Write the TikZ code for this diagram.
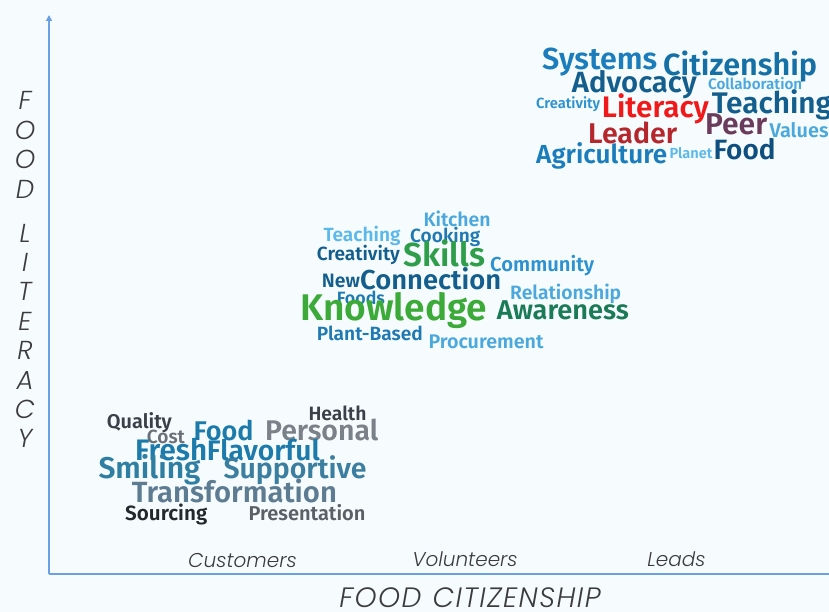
\documentclass[tikz,border=0pt]{standalone}
\usepackage{fontspec}
\usepackage{graphicx}
\usetikzlibrary{arrows.meta}

\newfontfamily\cloudfont{Fira Sans}[UprightFont=* SemiBold]
\newfontfamily\axisfont{Poppins}[UprightFont=* Light Italic]

\definecolor{paper}{HTML}{F6FCFE}
\definecolor{axisblue}{HTML}{6A9FE3}
\definecolor{axistext}{HTML}{3C3C3C}
% word colours
\definecolor{sky}{HTML}{1B7DBB}
\definecolor{skydark}{HTML}{1570A6}
\definecolor{navy}{HTML}{135E8C}
\definecolor{deepnavy}{HTML}{0E4F80}
\definecolor{light}{HTML}{4BA8DC}
\definecolor{pale}{HTML}{5BB8EA}
\definecolor{mid}{HTML}{1F79B2}
\definecolor{bright}{HTML}{2D92CF}
\definecolor{litred}{HTML}{F01818}
\definecolor{brick}{HTML}{B3272D}
\definecolor{plum}{HTML}{6B3B5C}
\definecolor{leaf}{HTML}{3BAA38}
\definecolor{grass}{HTML}{2E9E4A}
\definecolor{pine}{HTML}{1B7B57}
\definecolor{slate}{HTML}{3B4048}
\definecolor{ink}{HTML}{23282D}
\definecolor{ash}{HTML}{6A7077}
\definecolor{stone}{HTML}{7B8188}
\definecolor{petrol}{HTML}{1C7BAA}
\definecolor{petrolmid}{HTML}{2F7FA2}
\definecolor{petrolsoft}{HTML}{3B7E9F}
\definecolor{steel}{HTML}{5D7C92}
\definecolor{smoke}{HTML}{5B6066}

% word scaled to a given width
\newcommand{\cw}[2]{\resizebox{#1pt}{!}{\cloudfont #2}}

\begin{document}
\begin{tikzpicture}[x=1pt, y=-1pt]
\fill[paper] (0,0) rectangle (829,612);
\useasboundingbox (0,0) rectangle (829,612);

% axes
\coordinate (o) at (49,574);
\coordinate (ytop) at (49,15);
\coordinate (xend) at (829,574);
\draw[axisblue, line width=1.6pt, -{Triangle[length=6pt,width=6pt]}] (o) -- (ytop);
\draw[axisblue, line width=1.6pt] (o) -- (xend);

\tikzstyle{every node} = [inner sep=0, anchor=base west]

% leads
\node[text=sky] (systems) at (542,69.3) {\cw{115}{Systems}};
\node[text=skydark] (citizenship) at (663,75.7) {\cw{154}{Citizenship}};
\node[text=navy] (advocacy) at (571.7,92.7) {\cw{125}{Advocacy}};
\node[text=light] (collab) at (708,90) {\cw{94}{Collaboration}};
\node[text=bright] (creat1) at (536,108.3) {\cw{64}{Creativity}};
\node[text=litred] (literacy) at (601.7,118) {\cw{107}{Literacy}};
\node[text=navy] (teach1) at (711.7,114) {\cw{120}{Teaching}};
\node[text=brick] (leader) at (588,143.3) {\cw{89}{Leader}};
\node[text=plum] (peer) at (705,135) {\cw{62}{Peer}};
\node[text=light] (values) at (769.3,137.3) {\cw{59}{Values}};
\node[text=sky] (agri) at (536,163.3) {\cw{131}{Agriculture}};
\node[text=pale] (planet) at (669.3,158.3) {\cw{43}{Planet}};
\node[text=deepnavy] (food1) at (713.3,160) {\cw{62}{Food}};

% volunteers
\node[text=light] (kitchen) at (423.3,226.7) {\cw{67}{Kitchen}};
\node[text=pale] (teach2) at (323.3,242) {\cw{77}{Teaching}};
\node[text=mid] (cooking) at (410,242) {\cw{70}{Cooking}};
\node[text=navy] (creat2) at (316.7,260) {\cw{83}{Creativity}};
\node[text=grass] (skills) at (403.3,266.7) {\cw{82}{Skills}};
\node[text=bright] (community) at (490,271.7) {\cw{104}{Community}};
\node[text=navy] (new) at (321.7,287.3) {\cw{38}{New}};
\node[text=navy] (connection) at (360,289.3) {\cw{141}{Connection}};
\node[text=light] (relation) at (510,299.3) {\cw{111}{Relationship}};
\node[text=mid] (foods) at (336.7,304) {\cw{48}{Foods}};
\node[text=leaf] (knowledge) at (300,320.7) {\cw{187}{Knowledge}};
\node[text=pine] (awareness) at (496.7,319.3) {\cw{132}{Awareness}};
\node[text=mid] (plant) at (316.7,340.7) {\cw{106}{Plant-Based}};
\node[text=light] (procure) at (428.3,348.3) {\cw{115}{Procurement}};

% customers
\node[text=slate] (quality) at (106.7,428.3) {\cw{65}{Quality}};
\node[text=slate] (health) at (308.3,420) {\cw{58}{Health}};
\node[text=ash] (cost) at (146.7,443.3) {\cw{38}{Cost}};
\node[text=petrol] (food2) at (193.3,440) {\cw{60}{Food}};
\node[text=stone] (personal) at (265,440) {\cw{113}{Personal}};
\node[text=petrol] (fresh) at (135,460) {\cw{72}{Fresh}};
\node[text=petrol] (flavorful) at (206.7,460) {\cw{113}{Flavorful}};
\node[text=petrolmid] (smiling) at (98.3,478.3) {\cw{102}{Smiling}};
\node[text=petrolsoft] (supportive) at (223.3,478.3) {\cw{143}{Supportive}};
\node[text=steel] (transform) at (131.7,502.3) {\cw{205}{Transformation}};
\node[text=ink] (sourcing) at (125,520) {\cw{82}{Sourcing}};
\node[text=smoke] (present) at (248.3,520) {\cw{117}{Presentation}};

% axis labels
\tikzstyle{every node} = [inner sep=0, text=axistext]
\node[anchor=north, align=center, font=\axisfont\fontsize{26}{29.4}\selectfont] (ylabel) at (25,91.5)
  {F\\O\\O\\D\\[14.6pt]L\\I\\T\\E\\R\\A\\C\\Y};
\node[anchor=base, font=\axisfont\fontsize{20}{20}\selectfont] (customers) at (242.5,567) {Customers};
\node[anchor=base, font=\axisfont\fontsize{20}{20}\selectfont] (volunteers) at (465,566) {Volunteers};
\node[anchor=base, font=\axisfont\fontsize{20}{20}\selectfont] (leads) at (676.5,566) {Leads};
\node[anchor=base, font=\axisfont\fontsize{28}{28}\selectfont\addfontfeatures{LetterSpace=5}] (xlabel) at (470,607) {FOOD\hspace{0.4em}CITIZENSHIP};
\end{tikzpicture}
\end{document}
